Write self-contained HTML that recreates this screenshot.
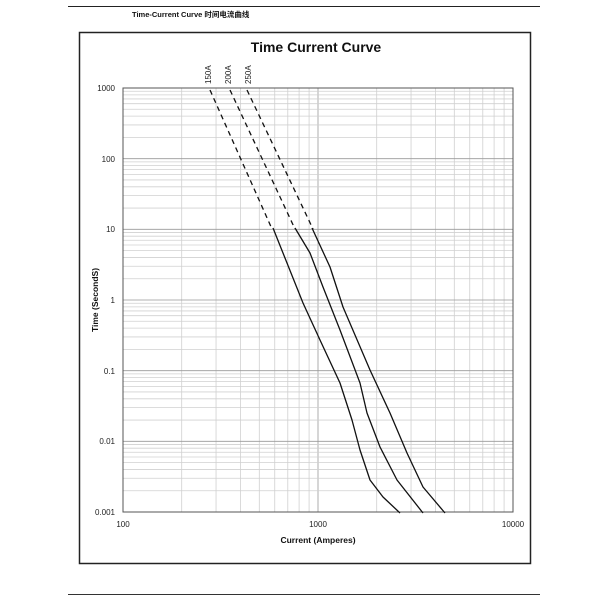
<!DOCTYPE html>
<html><head><meta charset="utf-8"><style>
body{margin:0;background:#fff;}
svg{display:block;font-family:"Liberation Sans","Noto Sans CJK SC",sans-serif;}
</style></head><body>
<svg id="s" width="600" height="600" viewBox="0 0 600 600">
<line x1="68" y1="6.5" x2="540" y2="6.5" stroke="#222" stroke-width="1"/>
<text x="132" y="17" font-size="7.5" font-weight="bold" fill="#111">Time-Current Curve 时间电流曲线</text>
<line x1="68" y1="594.5" x2="540" y2="594.5" stroke="#333" stroke-width="1"/>
<rect x="79.5" y="32.5" width="451" height="531" fill="#fff" stroke="#222" stroke-width="1.5"/>
<text x="316" y="52" font-size="14" font-weight="bold" text-anchor="middle" fill="#111">Time Current Curve</text>
<g id="grid"></g>
<rect x="123" y="88" width="390" height="424" fill="none" stroke="#555" stroke-width="1"/>
<g font-size="8" fill="#222" text-anchor="end">
<text x="115" y="91">1000</text><text x="115" y="162">100</text><text x="115" y="232">10</text>
<text x="115" y="303">1</text><text x="115" y="374">0.1</text><text x="115" y="444">0.01</text><text x="115" y="515">0.001</text>
</g>
<g font-size="8" fill="#222" text-anchor="middle">
<text x="123" y="527">100</text><text x="318" y="527">1000</text><text x="513" y="527">10000</text>
</g>
<text x="318" y="543" font-size="8.5" font-weight="bold" text-anchor="middle" fill="#111">Current  (Amperes)</text>
<text transform="translate(98,300) rotate(-90)" font-size="8.5" font-weight="bold" text-anchor="middle" fill="#111">Time (SecondS)</text>
<g font-size="8" fill="#222">
<text transform="translate(211,84) rotate(-90)">150A</text>
<text transform="translate(231,84) rotate(-90)">200A</text>
<text transform="translate(251,84) rotate(-90)">250A</text>
</g>
<g fill="none" stroke="#111" stroke-width="1.3" stroke-linejoin="round">
<path d="M210,90 L272,229" stroke-dasharray="5,4"/>
<path d="M230,90 L295,229" stroke-dasharray="5,4"/>
<path d="M247,90 L313,229" stroke-dasharray="5,4"/>
<path d="M273,228 L303,303 L320,340 L340,383 L352,420 L360,450 L370,480 L383,497 L400,513"/>
<path d="M295,228 L310,253 L323,287 L340,330 L360,383 L367,413 L380,447 L397,480 L423,513"/>
<path d="M312,228 L330,267 L343,307 L370,370 L390,413 L407,453 L423,487 L445,513"/>
</g>
</svg>
<script>
var g=document.getElementById('grid'),h='';
var x0=123,x1=513,y0=88,y1=512,dx=195,dy=424/6;
for(var d=0;d<2;d++)for(var k=1;k<10;k++){var x=x0+d*dx+Math.log10(k)*dx;
h+='<line x1="'+x+'" y1="'+y0+'" x2="'+x+'" y2="'+y1+'" stroke="'+(k==1?'#999':'#d0d0d0')+'" stroke-width="0.8"/>';}
for(var d=0;d<6;d++)for(var k=1;k<10;k++){var y=y1-d*dy-Math.log10(k)*dy;
h+='<line x1="'+x0+'" y1="'+y+'" x2="'+x1+'" y2="'+y+'" stroke="'+(k==1?'#999':'#d0d0d0')+'" stroke-width="0.8"/>';}
g.innerHTML=h;
</script>
</body></html>
